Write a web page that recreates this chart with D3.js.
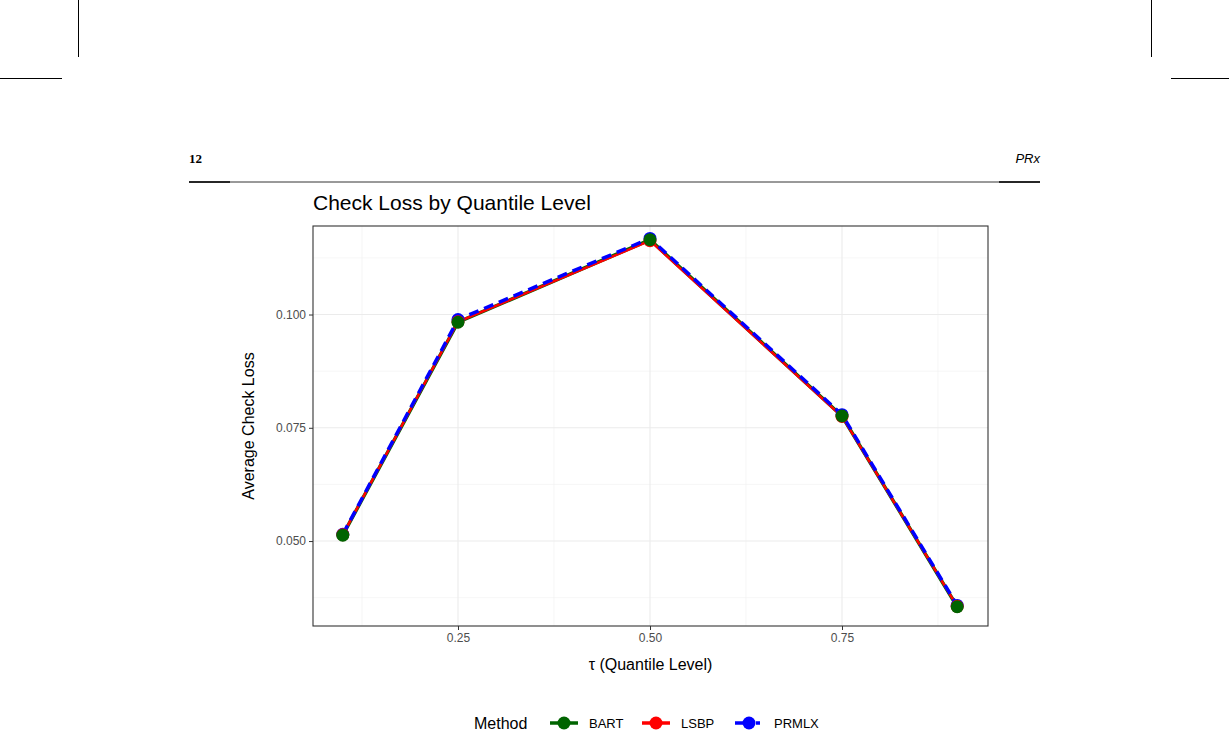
<!DOCTYPE html><html><head><script src="https://cdn.jsdelivr.net/npm/d3@7"></script>
<style>body{margin:0;background:#fff}</style></head><body><svg id="c" width="1229" height="737"></svg>
<script>
const taus=[0.1,0.25,0.5,0.75,0.9];
const bart=[0.0513,0.0983,0.1165,0.0776,0.0355];
const lsbp=[0.0514,0.0984,0.1163,0.0775,0.0356];
const prmlx=[0.0515,0.0989,0.1168,0.0779,0.0358];
const xTicks=[0.25,0.5,0.75];
const yTicks=[0.05,0.075,0.1];
const svg=d3.select("#c");
const F="Liberation Sans, Arial, sans-serif";
// page decoration
svg.append("line").attr("x1",78.5).attr("x2",78.5).attr("y1",0).attr("y2",57).attr("stroke","#000");
svg.append("line").attr("x1",1151.5).attr("x2",1151.5).attr("y1",0).attr("y2",57).attr("stroke","#000");
svg.append("line").attr("x1",0).attr("x2",62).attr("y1",78.5).attr("y2",78.5).attr("stroke","#000");
svg.append("line").attr("x1",1171).attr("x2",1229).attr("y1",78.5).attr("y2",78.5).attr("stroke","#000");
svg.append("text").attr("x",189).attr("y",163).attr("font-family","Liberation Serif, serif").attr("font-weight","bold").attr("font-size",13).text("12");
svg.append("text").attr("x",1040).attr("y",163).attr("text-anchor","end").attr("font-family",F).attr("font-style","italic").attr("font-size",13).text("PRx");
svg.append("line").attr("x1",189).attr("x2",1040).attr("y1",182).attr("y2",182).attr("stroke","#000").attr("stroke-width",0.8);
svg.append("line").attr("x1",189).attr("x2",230).attr("y1",182).attr("y2",182).attr("stroke","#000").attr("stroke-width",1.6);
svg.append("line").attr("x1",999).attr("x2",1040).attr("y1",182).attr("y2",182).attr("stroke","#000").attr("stroke-width",1.6);
const L=313,R=988,T=226,B=626;
const x=d3.scaleLinear().domain([0.0612,0.9401]).range([L,R]);
const y=d3.scaleLinear().domain([0.03125,0.11954]).range([B,T]);
const g=svg.append("g");
// grid
const minorX=[0.125,0.375,0.625,0.875], minorY=[0.0375,0.0625,0.0875,0.1125];
minorX.forEach(v=>g.append("line").attr("x1",x(v)).attr("x2",x(v)).attr("y1",T).attr("y2",B).attr("stroke","#f0f0f0").attr("stroke-width",0.6));
minorY.forEach(v=>g.append("line").attr("y1",y(v)).attr("y2",y(v)).attr("x1",L).attr("x2",R).attr("stroke","#f0f0f0").attr("stroke-width",0.6));
xTicks.forEach(v=>g.append("line").attr("x1",x(v)).attr("x2",x(v)).attr("y1",T).attr("y2",B).attr("stroke","#ebebeb").attr("stroke-width",1.1));
yTicks.forEach(v=>g.append("line").attr("y1",y(v)).attr("y2",y(v)).attr("x1",L).attr("x2",R).attr("stroke","#ebebeb").attr("stroke-width",1.1));
// axes
const ax=svg.append("g").attr("transform",`translate(0,${B})`).call(d3.axisBottom(x).tickValues(xTicks).tickFormat(d3.format(".2f")).tickSize(4));
const ay=svg.append("g").attr("transform",`translate(${L},0)`).call(d3.axisLeft(y).tickValues(yTicks).tickFormat(d3.format(".3f")).tickSize(4));
[ax,ay].forEach(a=>{a.select(".domain").remove();a.selectAll("line").attr("stroke","#333");a.selectAll("text").attr("fill","#4d4d4d").attr("font-family",F).attr("font-size",12);});
const line=d3.line().x((d,i)=>x(taus[i])).y(d=>y(d));
g.append("path").datum(bart).attr("d",line).attr("fill","none").attr("stroke","#006400").attr("stroke-width",3.5);
g.append("path").datum(lsbp).attr("d",line).attr("fill","none").attr("stroke","#ff0000").attr("stroke-width",2.5);
g.append("path").datum(prmlx).attr("d",line).attr("fill","none").attr("stroke","#0000ff").attr("stroke-width",3.5).attr("stroke-dasharray","10,6");
[[prmlx,"#0000ff"],[lsbp,"#ff0000"],[bart,"#006400"]].forEach(([d,c])=>g.selectAll(null).data(d).enter().append("circle").attr("cx",(v,i)=>x(taus[i])).attr("cy",v=>y(v)).attr("r",6.5).attr("fill",c));
svg.append("rect").attr("x",L).attr("y",T).attr("width",R-L).attr("height",B-T).attr("fill","none").attr("stroke","#333").attr("stroke-width",1.1);
svg.append("text").attr("x",L).attr("y",210).attr("font-family",F).attr("font-size",21).text("Check Loss by Quantile Level");
svg.append("text").attr("x",(L+R)/2).attr("y",670).attr("text-anchor","middle").attr("font-family",F).attr("font-size",16).text("τ (Quantile Level)");
svg.append("text").attr("transform",`translate(254,${(T+B)/2}) rotate(-90)`).attr("text-anchor","middle").attr("font-family",F).attr("font-size",16).text("Average Check Loss");
// legend
const lg=svg.append("g");
lg.append("text").attr("x",474).attr("y",729).attr("font-family",F).attr("font-size",16).text("Method");
const items=[["BART","#006400",null,550],["LSBP","#ff0000",null,642],["PRMLX","#0000ff","10,6",735]];
items.forEach(([n,c,da,x0])=>{
 lg.append("line").attr("x1",x0).attr("x2",x0+28).attr("y1",723).attr("y2",723).attr("stroke",c).attr("stroke-width",3.5).attr("stroke-dasharray",da?"17,4,4,4":null);
 lg.append("circle").attr("cx",x0+14).attr("cy",723).attr("r",6.5).attr("fill",c);
 lg.append("text").attr("x",x0+39).attr("y",728).attr("font-family",F).attr("font-size",13).text(n);
});
</script></body></html>
